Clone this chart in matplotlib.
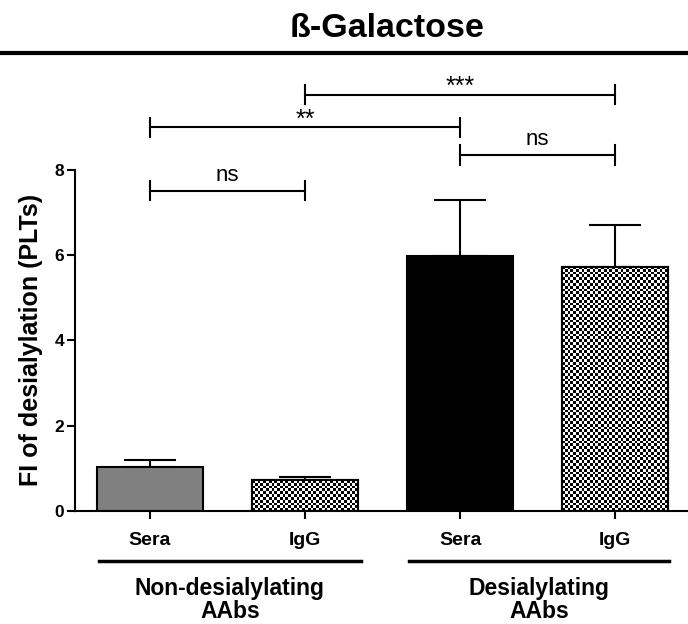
import matplotlib.pyplot as plt
import matplotlib.transforms as mtransforms
import numpy as np

plt.rcParams['font.family'] = ['Liberation Sans', 'DejaVu Sans']

# mean and upper SEM per bar
labels = ['Sera', 'IgG', 'Sera', 'IgG']
means = [1.03, 0.72, 5.98, 5.73]
errs = [0.17, 0.08, 1.30, 0.97]
fills = ['gray', 'checker', 'black', 'checker']

groups = ['Non-desialylating\nAAbs', 'Desialylating\nAAbs']
group_span = [(-0.33, 1.36), (1.67, 3.35)]

# significance brackets: (left bar, right bar, height, text)
brackets = [
    (0, 1, 7.51, 'ns'),
    (0, 2, 8.99, '**'),
    (2, 3, 8.35, 'ns'),
    (1, 3, 9.76, '***'),
]

fig = plt.figure(figsize=(6.88, 6.24), dpi=100)
ax = fig.add_axes([0.109, 0.181, 0.891, 0.547])

x = np.arange(len(means))
width = 0.68
face = ['#808080' if f == 'gray' else 'black' if f == 'black' else 'white' for f in fills]
bars = ax.bar(x, means, width, color=face, edgecolor='black', linewidth=1.5, zorder=2)

# checkerboard fill for the IgG bars
cell_x = 0.018
cell_y = 0.066
for b, f in zip(bars, fills):
    if f != 'checker':
        continue
    x0, w, h = b.get_x(), b.get_width(), b.get_height()
    nx = int(round(w / cell_x))
    ny = int(round(h / cell_y))
    board = np.indices((ny, nx)).sum(axis=0) % 2
    im = ax.imshow(board, cmap='gray', extent=(x0, x0 + w, 0, h),
                   interpolation='nearest', aspect='auto', zorder=2.5)
    im.set_clip_path(b)
    ax.add_patch(plt.Rectangle((x0, 0), w, h, fill=False, edgecolor='black',
                               linewidth=1.5, zorder=3))

ax.errorbar(x, means, yerr=[np.zeros(len(errs)), errs], fmt='none', ecolor='black',
            elinewidth=1.5, capsize=19, capthick=1.5, zorder=1)

ax.set_xlim(-0.484, 3.47)
ax.set_ylim(0, 8)
ax.set_aspect('auto')
ax.set_yticks([0, 2, 4, 6, 8])
ax.set_xticks(x)
ax.set_xticklabels(labels, fontsize=14, fontweight='bold')
for t in ax.get_yticklabels():
    t.set_fontsize(12.5)
    t.set_fontweight('bold')
ax.tick_params(axis='both', width=1.5, length=6, direction='out')
ax.tick_params(axis='x', pad=9)
ax.tick_params(axis='y', pad=2)
ax.spines['top'].set_visible(False)
ax.spines['right'].set_visible(False)
for s in ['left', 'bottom']:
    ax.spines[s].set_linewidth(1.5)

ax.set_ylabel('FI of desialylation (PLTs)', fontsize=18, fontweight='bold', labelpad=8)

# brackets above the bars
for i, j, yb, txt in brackets:
    ax.plot([x[i], x[j]], [yb, yb], color='black', lw=1.5, clip_on=False)
    for xe in (x[i], x[j]):
        ax.plot([xe, xe], [yb - 0.23, yb + 0.23], color='black', lw=1.5, clip_on=False)
    if 'ns' in txt:
        ax.text((x[i] + x[j]) / 2, yb + 0.12, txt, ha='center', va='bottom', fontsize=16)
    else:
        ax.text((x[i] + x[j]) / 2, yb - 0.1, txt, ha='center', va='bottom', fontsize=18)

# group lines and labels under the axis
trans = mtransforms.blended_transform_factory(ax.transData, ax.transAxes)
for (a, b), name in zip(group_span, groups):
    ax.plot([a, b], [-0.147, -0.147], color='black', lw=2.5, transform=trans, clip_on=False)
    ax.text((a + b) / 2, -0.192, name, transform=trans, ha='center', va='top',
            fontsize=16.5, fontweight='bold', linespacing=1.0)

# title with rule underneath
fig.text(0.5625, 0.9407, 'ß-Galactose', ha='center', va='baseline', fontsize=24.5, fontweight='bold')
fig.add_artist(plt.Line2D([0.0, 1.0], [0.915, 0.915], color='black', lw=3,
                          transform=fig.transFigure))

fig.savefig('out.png', dpi=100)
